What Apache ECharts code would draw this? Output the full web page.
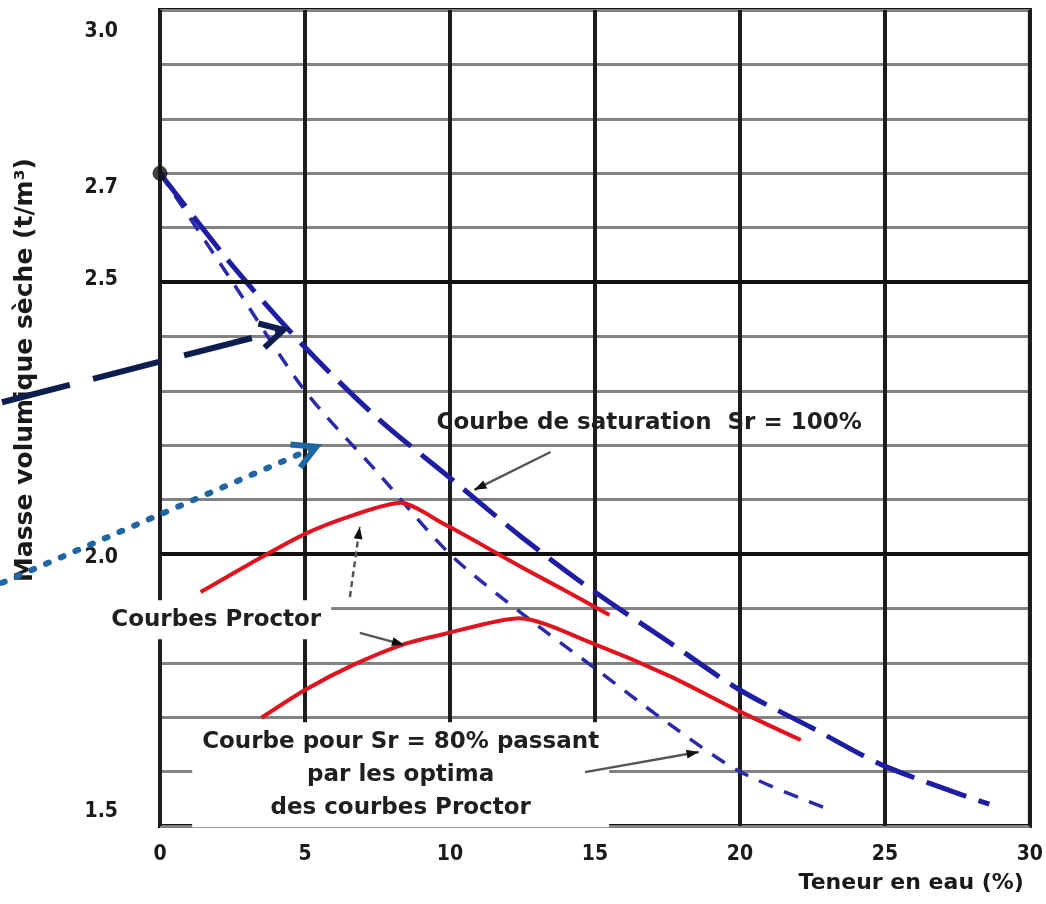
<!DOCTYPE html>
<html>
<head>
<meta charset="utf-8">
<script src="https://cdn.jsdelivr.net/npm/echarts@6/dist/echarts.min.js"></script>
<style>
  html, body { margin: 0; padding: 0; background: #fff; }
  #main { width: 1046px; height: 904px; }
</style>
</head>
<body>
<div id="main"></div>
<script>
// teneur en eau (%) / masse volumique sèche (t/m3)
const satW = [0, 2.5, 5, 7.5, 10, 12.5, 15, 17.5, 20, 22.5, 25, 28.6];
const satRho = [2.70, 2.53, 2.38, 2.25, 2.14, 2.03, 1.93, 1.84, 1.75, 1.68, 1.61, 1.54];

const sr80W = [0, 2.5, 5, 7.5, 10, 12.5, 15, 17.5, 20, 23.1];
const sr80Rho = [2.70, 2.50, 2.30, 2.15, 2.00, 1.89, 1.79, 1.69, 1.60, 1.53];

const proctorHighW = [1.4, 3.0, 5.0, 6.7, 8.3, 9.8, 11.0, 12.6, 14.0, 15.5];
const proctorHighRho = [1.93, 1.979, 2.037, 2.072, 2.094, 2.055, 2.02, 1.972, 1.932, 1.888];

const proctorLowW = [3.5, 5.0, 6.7, 8.4, 9.8, 12.4, 14.9, 17.6, 19.9, 22.1];
const proctorLowRho = [1.699, 1.75, 1.797, 1.834, 1.853, 1.882, 1.836, 1.775, 1.713, 1.658];

// labels written on the y axis, and the small shift each has in the scan
const yLabels = ['1.5', '2.0', '2.5', '2.7', '3.0'];
const yLabelShift = { '1.5': -14, '2.0': 4, '2.5': -2, '2.7': 14, '3.0': 22 };
const xLabels = ['0', '5', '10', '15', '20', '25', '30'];

const FONT = '"Liberation Sans Narrow", "DejaVu Sans Condensed", "Liberation Sans", sans-serif';
const TEXT_FONT = '"DejaVu Sans", "Liberation Sans", sans-serif';

const pairs = (xs, ys) => xs.map((x, i) => [x, ys[i]]);

// rich styles for the shifted y labels
const yRich = {};
yLabels.forEach((s, i) => {
  const d = yLabelShift[s];
  yRich['l' + i] = {
    color: '#1a1a1a',
    fontSize: 21,
    fontWeight: 'bold',
    fontFamily: FONT,
    padding: d >= 0 ? [2 * d, 0, 0, 0] : [0, 0, -2 * d, 0]
  };
});

const chart = echarts.init(document.getElementById('main'));

const option = {
  animation: false,
  backgroundColor: '#ffffff',
  grid: {
    left: 160,
    right: 6,
    top: 10,
    bottom: 78,
    show: true,
    borderColor: '#111',
    borderWidth: 4,
    backgroundColor: 'transparent'
  },
  xAxis: {
    type: 'value',
    min: 0,
    max: 30,
    interval: 5,
    axisLine: { show: false },
    axisTick: { show: false },
    axisLabel: {
      color: '#1a1a1a',
      fontSize: 21,
      fontWeight: 'bold',
      fontFamily: FONT,
      margin: 18,
      formatter: v => xLabels[Math.round(v / 5)] || ''
    },
    splitLine: { show: true, lineStyle: { color: '#1c1c1c', width: 4 } },
    name: 'Teneur en eau (%)',
    nameLocation: 'end',
    nameGap: -6,
    nameTextStyle: {
      color: '#1a1a1a',
      fontSize: 22,
      fontWeight: 'bold',
      fontFamily: TEXT_FONT,
      align: 'right',
      verticalAlign: 'top',
      padding: [46, 0, 0, 0]
    }
  },
  yAxis: {
    type: 'value',
    min: 1.5,
    max: 3.0,
    interval: 0.1,
    axisLine: { show: false },
    axisTick: { show: false },
    axisLabel: {
      margin: 42,
      rich: yRich,
      formatter: v => {
        const s = v.toFixed(1);
        const i = yLabels.indexOf(s);
        return i >= 0 ? '{l' + i + '|' + s + '}' : '';
      }
    },
    splitLine: { show: true, lineStyle: { color: '#828282', width: 3 } },
    name: 'Masse volumique sèche (t/m³)',
    nameLocation: 'middle',
    nameGap: 122,
    nameTextStyle: {
      color: '#1a1a1a',
      fontSize: 25,
      fontWeight: 'bold',
      fontFamily: TEXT_FONT,
      padding: [0, 0, 0, 96]
    }
  },
  series: [
    {
      name: 'Sr = 100%',
      type: 'line',
      data: pairs(satW, satRho),
      smooth: 0.3,
      symbol: 'none',
      lineStyle: { color: '#1e1ea3', width: 5, type: [42, 13] },
      markLine: {
        silent: true,
        symbol: ['none', 'none'],
        label: { show: false },
        lineStyle: { color: '#111', width: 4, type: 'solid' },
        data: [{ yAxis: 2.0 }, { yAxis: 2.5 }]
      },
      z: 4
    },
    {
      name: 'Sr = 80%',
      type: 'line',
      data: pairs(sr80W, sr80Rho),
      smooth: 0.3,
      symbol: 'none',
      lineStyle: { color: '#2b2baa', width: 3.5, type: [15, 12] },
      z: 3
    },
    {
      name: 'Proctor 1',
      type: 'line',
      data: pairs(proctorHighW, proctorHighRho),
      smooth: 0.25,
      symbol: 'none',
      lineStyle: { color: '#e0141e', width: 4 },
      z: 5
    },
    {
      name: 'Proctor 2',
      type: 'line',
      data: pairs(proctorLowW, proctorLowRho),
      smooth: 0.25,
      symbol: 'none',
      lineStyle: { color: '#e0141e', width: 4 },
      z: 5
    },
    {
      name: 'origine',
      type: 'scatter',
      data: [[satW[0], satRho[0]]],
      symbol: 'circle',
      symbolSize: 15,
      itemStyle: { color: '#111' },
      clip: false,
      z: 6
    }
  ]
};

chart.setOption(option);

// annotations, positions in data coordinates (w %, rho t/m3)
const textNotes = [
  { text: 'Courbe de saturation  Sr = 100%', at: [16.87, 2.241], box: false },
  { text: 'Courbes Proctor', at: [1.94, 1.879], box: true },
  { text: 'Courbe pour Sr = 80% passant\npar les optima\ndes courbes Proctor', at: [8.3, 1.594], box: true }
];
const pointerArrows = [
  { from: [13.47, 2.1875], to: [10.84, 2.118] },
  { from: [6.55, 1.921], to: [6.89, 2.05], dash: [6, 4] },
  { from: [6.89, 1.855], to: [8.42, 1.833] },
  { from: [14.66, 1.599], to: [18.58, 1.636] }
];
const bigArrows = [
  { from: [-5.45, 2.279], to: [4.26, 2.412], color: '#0e1d4f', width: 6, dash: [70, 24], cap: 'butt' },
  { from: [-5.45, 1.947], to: [5.39, 2.197], color: '#2066a2', width: 6, dash: [3, 13], cap: 'round' }
];

const toPx = p => chart.convertToPixel({ gridIndex: 0 }, p);

function headPoints(a, b, size, spread) {
  const ang = Math.atan2(b[1] - a[1], b[0] - a[0]);
  return [
    [b[0] - size * Math.cos(ang - spread), b[1] - size * Math.sin(ang - spread)],
    b,
    [b[0] - size * Math.cos(ang + spread), b[1] - size * Math.sin(ang + spread)]
  ];
}

const graphics = [];

textNotes.forEach(n => {
  const p = toPx(n.at);
  graphics.push({
    type: 'text',
    x: p[0],
    y: p[1],
    z: 100,
    style: {
      text: n.text,
      fill: '#1f1f1f',
      font: 'bold 23px ' + TEXT_FONT,
      align: 'center',
      verticalAlign: 'middle',
      lineHeight: 33,
      backgroundColor: n.box ? '#ffffff' : null,
      padding: n.box ? [3, 10, 3, 10] : 0
    }
  });
});

pointerArrows.forEach(a => {
  const p0 = toPx(a.from), p1 = toPx(a.to);
  graphics.push({
    type: 'line',
    z: 101,
    shape: { x1: p0[0], y1: p0[1], x2: p1[0], y2: p1[1] },
    style: { stroke: '#555', lineWidth: 2.5, lineDash: a.dash || null }
  });
  graphics.push({
    type: 'polygon',
    z: 102,
    shape: { points: headPoints(p0, p1, 13, 0.35) },
    style: { fill: '#111' }
  });
});

bigArrows.forEach(a => {
  const p0 = toPx(a.from), p1 = toPx(a.to);
  graphics.push({
    type: 'line',
    z: 103,
    shape: { x1: p0[0], y1: p0[1], x2: p1[0], y2: p1[1] },
    style: { stroke: a.color, lineWidth: a.width, lineDash: a.dash, lineCap: a.cap }
  });
  graphics.push({
    type: 'polyline',
    z: 104,
    shape: { points: headPoints(p0, p1, 26, 0.5) },
    style: { stroke: a.color, lineWidth: a.width, fill: null, lineCap: 'butt', lineJoin: 'miter' }
  });
});

chart.setOption({ graphic: graphics });
</script>
</body>
</html>
